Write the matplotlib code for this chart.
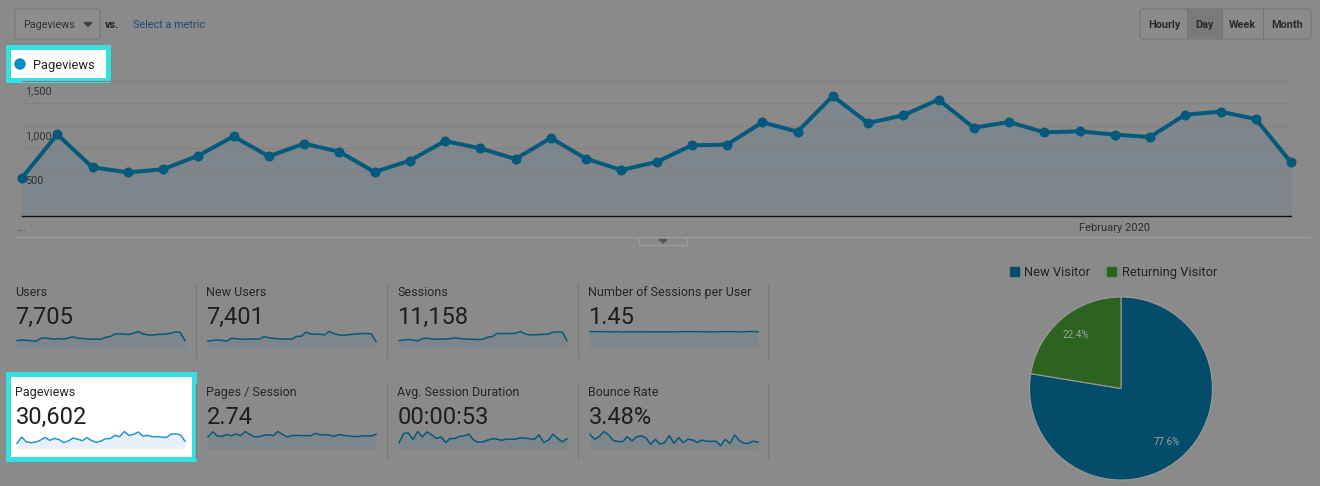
import numpy as np
import matplotlib.pyplot as plt
from matplotlib.patches import Rectangle, FancyBboxPatch, Polygon, Circle

plt.rcParams['font.family'] = ['Roboto', 'DejaVu Sans']

W, H = 1320, 486

# daily pageviews, 37 days (main chart + highlighted sparkline)
pageviews = [425, 907, 541, 485, 519, 670, 885, 663, 804, 715, 489, 615, 833,
             752, 633, 867, 637, 511, 600, 785, 793, 1041, 937, 1333, 1033,
             1119, 1293, 981, 1044, 930, 941, 904, 878, 1126, 1159, 1078, 596]
users = [140, 152, 146, 140, 128, 177, 189, 177, 164, 177, 164, 189, 207, 183,
         177, 171, 164, 164, 164, 201, 213, 262, 262, 256, 250, 274, 305, 262,
         244, 238, 250, 256, 262, 274, 299, 286, 140]
new_users = [127, 139, 145, 139, 127, 175, 169, 163, 157, 163, 163, 163, 205,
             187, 175, 169, 163, 163, 163, 211, 211, 284, 254, 248, 248, 236,
             296, 260, 236, 230, 236, 248, 254, 260, 260, 254, 121]
sessions = [202, 220, 229, 220, 193, 255, 264, 246, 237, 246, 237, 255, 272,
            255, 246, 237, 237, 229, 237, 290, 308, 387, 387, 387, 387, 396,
            440, 378, 352, 352, 360, 369, 369, 422, 431, 422, 202]
sessions_per_user = [1.47, 1.46, 1.45, 1.46, 1.44, 1.45, 1.46, 1.43, 1.44, 1.45,
                     1.44, 1.44, 1.45, 1.44, 1.44, 1.44, 1.44, 1.44, 1.45, 1.45,
                     1.46, 1.46, 1.46, 1.45, 1.45, 1.45, 1.44, 1.45, 1.45, 1.46,
                     1.46, 1.45, 1.45, 1.44, 1.47, 1.47, 1.44]
pages_per_session = [2.35, 3.35, 2.5, 2.45, 2.8, 2.6, 2.9, 2.6, 3.4, 2.8, 2.35,
                     2.4, 2.7, 2.75, 2.6, 3.4, 2.8, 2.35, 2.6, 2.65, 2.6, 2.6,
                     2.55, 3.05, 2.75, 2.75, 2.7, 2.45, 2.8, 2.65, 2.55, 2.45,
                     2.4, 2.55, 2.55, 2.55, 2.85]
avg_duration = [30, 75, 78, 46, 85, 59, 83, 69, 51, 59, 32, 51, 51, 61, 64, 72,
                43, 32, 35, 43, 50, 48, 42, 48, 48, 48, 54, 53, 50, 46, 69, 32,
                43, 72, 51, 35, 50]
bounce_rate = [5.6, 3.8, 4.9, 6.8, 5.5, 3.3, 2.9, 2.9, 4.8, 3.1, 4.8, 5.1, 4.3,
               1.8, 3.8, 1.8, 2.6, 5.2, 2.2, 4.4, 2.5, 3.8, 3.5, 2.5, 3.5, 3.0,
               3.0, 3.0, 1.3, 3.8, 2.1, 5.5, 3.3, 2.2, 2.2, 3.1, 2.6]

metric_names = ["Users", "New Users", "Sessions", "Number of Sessions per User",
                "Pageviews", "Pages / Session", "Avg. Session Duration", "Bounce Rate"]
metric_values = ["7,705", "7,401", "11,158", "1.45",
                 "30,602", "2.74", "00:00:53", "3.48%"]
spark_series = [users, new_users, sessions, sessions_per_user,
                pageviews, pages_per_session, avg_duration, bounce_rate]

visitor_types = ["New Visitor", "Returning Visitor"]
visitor_share = [77.6, 22.4]
y_ticks = [500, 1000, 1500]
grid_values = [500, 750, 1000, 1250, 1500]
buttons = ["Hourly", "Day", "Week", "Month"]

BG = '#8a8a8a'
LINE = '#045a7c'
FILL = '#7f868b'
CYAN = '#38dfe0'
DARK = '#222222'
PIE_COLORS = ['#034d6b', '#2c6320']

fig = plt.figure(figsize=(W / 100, H / 100), dpi=100)
fig.patch.set_facecolor(BG)


def px_axes(x0, y0, x1, y1):
    a = fig.add_axes([x0 / W, 1 - y1 / H, (x1 - x0) / W, (y1 - y0) / H])
    a.patch.set_alpha(0)
    return a


# overlay axes in pixel coordinates for the page chrome
bg = fig.add_axes([0, 0, 1, 1])
bg.set_xlim(0, W)
bg.set_ylim(H, 0)
bg.axis('off')

# metric selector
bg.add_patch(FancyBboxPatch((15, 9), 85, 30, boxstyle="round,pad=0,rounding_size=3",
                            fc='#8d8d8d', ec='#767676', lw=0.8))
bg.text(23, 28.3, "Pageviews", fontsize=7.8, color='#333333', va='baseline')
bg.add_patch(Polygon([(84, 22.5), (92, 22.5), (88, 26.5)], color='#444444'))
bg.text(105, 28, "vs.", fontsize=7.8, color=DARK, weight='bold', va='baseline')
bg.text(133, 28.3, "Select a metric", fontsize=7.8, color='#1d4a78', va='baseline')

# period buttons
bg.add_patch(FancyBboxPatch((1140, 9), 171, 30, boxstyle="round,pad=0,rounding_size=3",
                            fc='#8b8b8b', ec='#767676', lw=0.8))
bg.add_patch(Rectangle((1187, 9.5), 34.5, 29, fc='#7a7a7a', ec='none'))
for xd in [1187, 1221.5, 1263]:
    bg.plot([xd, xd], [9.5, 38.5], color='#767676', lw=0.8)
for name, xc in zip(buttons, [1164, 1204.5, 1242, 1287]):
    bg.text(xc, 28.3, name, fontsize=7.8, color='#2a2a2a', weight='bold',
            ha='center', va='baseline')

# highlighted legend box
bg.add_patch(Rectangle((7.5, 47.5), 100, 32.5, fc='white', ec=CYAN, lw=3.6))
bg.add_patch(Circle((20, 64), 5, color='#058dc7'))
bg.text(33, 69, "Pageviews", fontsize=9.3, color=DARK, va='baseline')

# main chart
ax = px_axes(22, 81, 1291, 216)
days = np.arange(len(pageviews))
ax.set_xlim(days[0], days[-1])
ax.set_ylim(0, 1500)
for v in grid_values:
    ax.axhline(v, color='#818181', lw=0.8, zorder=1.5, clip_on=False)
ax.fill_between(days, pageviews, color=FILL, zorder=1)
ax.plot(days, pageviews, color=LINE, lw=2.9, marker='o', ms=6.2,
        solid_joinstyle='round', zorder=3, clip_on=False)
ax.axhline(0, color='#111111', lw=1, zorder=4, clip_on=False)
for v in y_ticks:
    ax.annotate(f"{v:,}", xy=(0, v), xytext=(3, -13.3), textcoords='offset pixels',
                fontsize=7.8, color='#333333', va='baseline', zorder=5)
ax.annotate("February 2020", xy=(31, 0), xytext=(0, -15), textcoords='offset pixels',
            fontsize=8, color='#2e2e2e', ha='center', va='baseline',
            annotation_clip=False)
ax.axis('off')
bg.text(16, 231, "...", fontsize=9, color='#444444', va='baseline')

# separator with collapse tab
bg.plot([15, 1310], [237, 237], color='#9d9d9d', lw=0.9)
bg.add_patch(Rectangle((639, 237), 48, 8, fc='#8a8a8a', ec='#9d9d9d', lw=0.8))
bg.add_patch(Polygon([(659, 239.5), (667, 239.5), (663, 243)], color='#555555'))

# metric grid
col_x = [15, 206, 397, 588]
spark_x = [(17, 185), (208, 376), (399, 567), (590, 758)]
row_label_y = [295.5, 395.5]
row_value_y = [324, 424]
row_spark_y = [(331.5, 348.3), (431.5, 449)]
row_sep_y = [(284, 358), (384, 458)]

for r in range(2):
    for xs in [195.5, 386.5, 577.5, 768]:
        bg.plot([xs, xs], row_sep_y[r], color='#7a7a7a', lw=0.9)

# highlighted pageviews card
bg.add_patch(Rectangle((7.5, 374.3), 186.7, 84.2, fc='white', ec=CYAN, lw=3.6))

for i, (name, value, data) in enumerate(zip(metric_names, metric_values, spark_series)):
    r, c = divmod(i, 4)
    highlighted = name == "Pageviews"
    bg.text(col_x[c], row_label_y[r], name, fontsize=9, color='#262626', va='baseline')
    bg.text(col_x[c] + 0.5, row_value_y[r], value, fontsize=17, color='#1e1e1e',
            va='baseline')
    x0, x1 = spark_x[c]
    y0, y1 = row_spark_y[r]
    sa = px_axes(x0, y0, x1, y1)
    t = np.arange(len(data))
    sa.set_xlim(t[0], t[-1])
    sa.set_ylim(0, max(data))
    if highlighted:
        sa.fill_between(t, data, color='#e8f1f9', lw=0)
        sa.plot(t, data, color='#2b92d0', lw=1.1, clip_on=False)
    else:
        sa.fill_between(t, data, color=FILL, lw=0)
        sa.plot(t, data, color=LINE, lw=1.1, clip_on=False)
    sa.axis('off')

# visitor pie
pa = px_axes(1029.5, 297, 1212.5, 480)
wedges, _, autotexts = pa.pie(visitor_share, colors=PIE_COLORS, startangle=90,
                              counterclock=False, radius=1, autopct='%.1f%%',
                              pctdistance=0.77,
                              wedgeprops=dict(edgecolor='#9a9a9a', linewidth=0.8),
                              textprops=dict(color='#a2a2a2', fontsize=7))
pa.set_xlim(-1, 1)
pa.set_ylim(-1, 1)
pa.set_aspect('equal')

legend_x = [1009.5, 1106.5]
for name, col, lx in zip(visitor_types, PIE_COLORS, legend_x):
    bg.add_patch(Rectangle((lx, 266.5), 9.5, 9.5, color=col))
    bg.text(lx + 15, 276, name, fontsize=9.3, color='#222222', va='baseline')

fig.savefig("out.png", dpi=100, facecolor=fig.get_facecolor())
plt.close(fig)
